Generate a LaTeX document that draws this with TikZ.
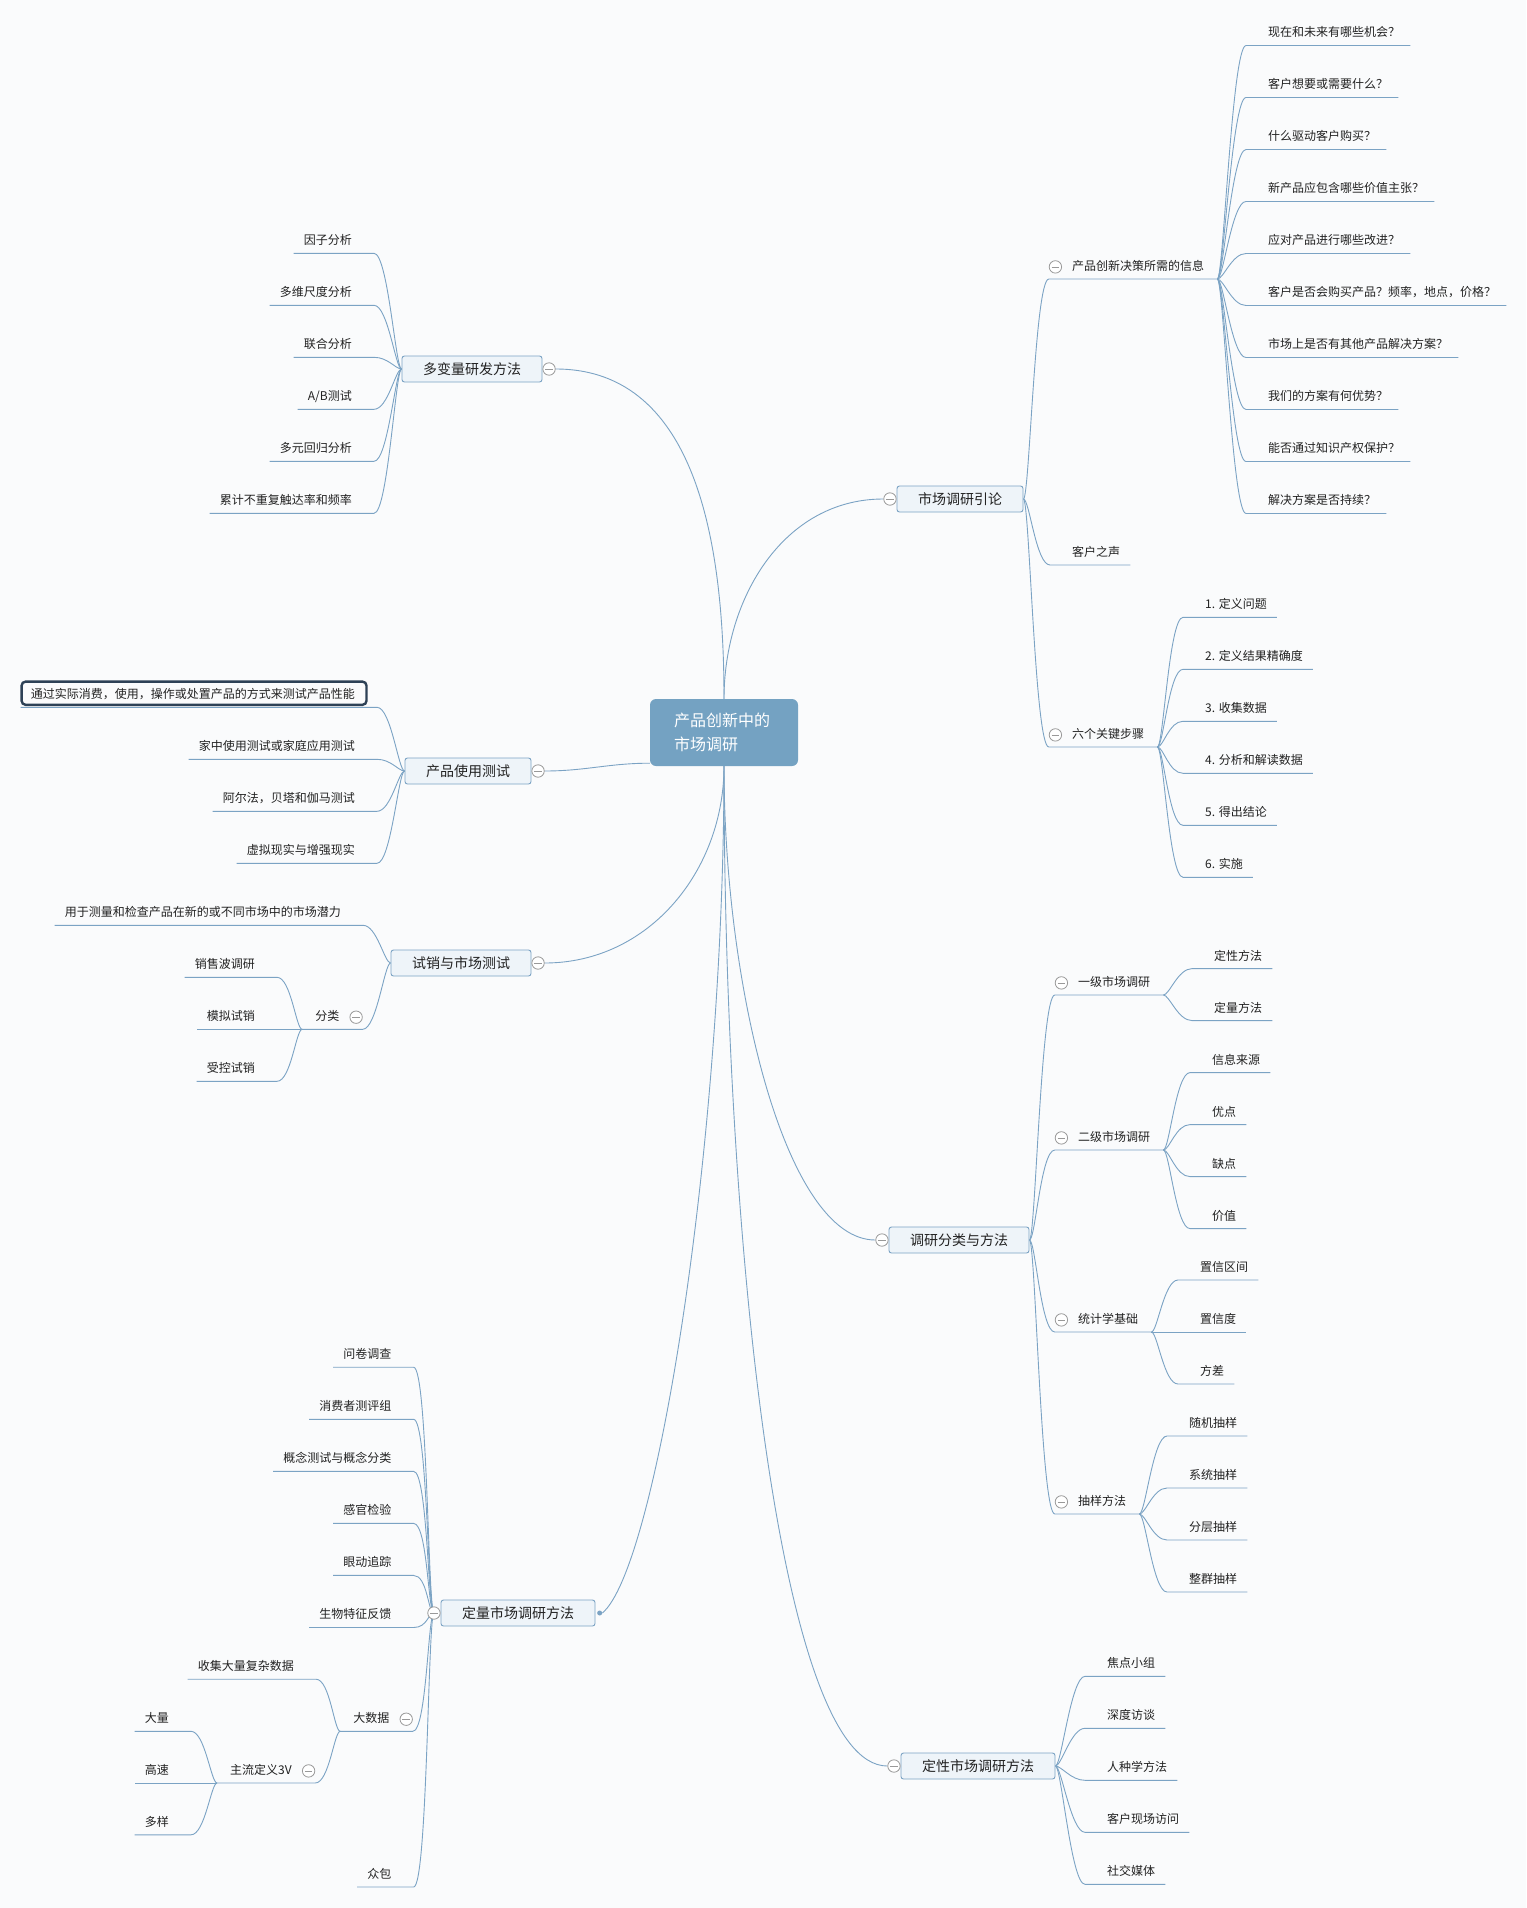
\documentclass[tikz,border=0pt]{standalone}
\usepackage{fontspec}
\usepackage{xcolor}
\usetikzlibrary{positioning,backgrounds}
\newfontfamily\cjk{Noto Sans CJK SC}
\definecolor{paper}{HTML}{FAFBFC}
\definecolor{ink}{HTML}{222222}
\definecolor{linkblue}{HTML}{7BA3C4}
\definecolor{rootblue}{HTML}{74A2C2}
\definecolor{topicfill}{HTML}{EEF4F9}
\definecolor{foldgray}{HTML}{999999}
\definecolor{navy}{HTML}{2D4156}
\tikzset{
  every node/.style={font=\cjk, text=ink},
  root/.style={fill=rootblue, rounded corners=6pt, text=white, font=\cjk\fontsize{16}{24}\selectfont, align=left, text width=100pt, minimum width=148pt, minimum height=67pt, inner xsep=24pt},
  topic/.style={draw=linkblue, fill=topicfill, rounded corners=2.5pt, line width=0.9pt, font=\cjk\fontsize{14}{16}\selectfont, inner xsep=21pt, inner ysep=0pt, minimum height=26pt},
  leaf/.style={font=\cjk\fontsize{12}{14}\selectfont, inner xsep=10pt, inner ysep=5.4pt, text height=10pt, text depth=3pt},
  subtopic/.style={leaf, inner xsep=13pt},
  fold/.style={circle, draw=foldgray, fill=white, line width=0.8pt, minimum size=12.4pt, inner sep=0pt, path picture={\draw[foldgray, line width=0.8pt] ([xshift=-3.8pt]path picture bounding box.center) -- ([xshift=3.8pt]path picture bounding box.center);}},
  pindot/.style={circle, fill=linkblue, minimum size=5pt, inner sep=0pt},
  link/.style={draw=linkblue, line width=0.9pt},
  goright/.style={out=0, in=180, out distance=6pt, in distance=14pt},
  goleft/.style={out=180, in=0, out distance=6pt, in distance=14pt},
  picked/.style={draw=navy, line width=2.4pt, rounded corners=4pt},
}
\begin{document}
\begin{tikzpicture}[x=1pt, y=-1pt]
\begin{scope}[on background layer]
\fill[paper] (0,0) rectangle (1526,1908);
\end{scope}
\useasboundingbox (0,0) rectangle (1526,1908);

\node[root] (root) at (724,732.5) {产品创新中的\\市场调研};

\node[topic] (intro) at (960,499) {市场调研引论};
\node[fold, left=0pt of intro] (introfold) {};
\node[topic] (multi) at (472,369) {多变量研发方法};
\node[fold, right=0pt of multi] (multifold) {};
\node[topic] (usage) at (468,771) {产品使用测试};
\node[fold, right=0pt of usage] (usagefold) {};
\node[topic] (trial) at (461,963) {试销与市场测试};
\node[fold, right=0pt of trial] (trialfold) {};
\node[topic] (classes) at (959,1240) {调研分类与方法};
\node[fold, left=0pt of classes] (classesfold) {};
\node[topic] (quant) at (518,1613) {定量市场调研方法};
\node[fold, left=0pt of quant] (quantfold) {};
\node[pindot, right=1.5pt of quant] (quantdot) {};
\node[topic] (qual) at (978,1766) {定性市场调研方法};
\node[fold, left=0pt of qual] (qualfold) {};

\node[subtopic, anchor=south west] (need) at (1059,279) {产品创新决策所需的信息};
\node[fold, left=-3pt of need] (needfold) {};
\node[leaf, anchor=south west] (voice) at (1062,565) {客户之声};
\node[subtopic, anchor=south west] (steps) at (1059,747) {六个关键步骤};
\node[fold, left=-3pt of steps] (stepsfold) {};

\node[leaf, anchor=south west] (need1) at (1258,45.5) {现在和未来有哪些机会？};
\node[leaf, anchor=south west] (need2) at (1258,97.5) {客户想要或需要什么？};
\node[leaf, anchor=south west] (need3) at (1258,149.5) {什么驱动客户购买？};
\node[leaf, anchor=south west] (need4) at (1258,201.5) {新产品应包含哪些价值主张？};
\node[leaf, anchor=south west] (need5) at (1258,253.5) {应对产品进行哪些改进？};
\node[leaf, anchor=south west] (need6) at (1258,305.5) {客户是否会购买产品？频率，地点，价格？};
\node[leaf, anchor=south west] (need7) at (1258,357.5) {市场上是否有其他产品解决方案？};
\node[leaf, anchor=south west] (need8) at (1258,409.5) {我们的方案有何优势？};
\node[leaf, anchor=south west] (need9) at (1258,461.5) {能否通过知识产权保护？};
\node[leaf, anchor=south west] (need10) at (1258,513.5) {解决方案是否持续？};

\node[leaf, anchor=south west] (step1) at (1195,617.3) {1. 定义问题};
\node[leaf, anchor=south west] (step2) at (1195,669.3) {2. 定义结果精确度};
\node[leaf, anchor=south west] (step3) at (1195,721.3) {3. 收集数据};
\node[leaf, anchor=south west] (step4) at (1195,773.3) {4. 分析和解读数据};
\node[leaf, anchor=south west] (step5) at (1195,825.3) {5. 得出结论};
\node[leaf, anchor=south west] (step6) at (1195,877.3) {6. 实施};

\node[subtopic, anchor=south west] (primary) at (1065,995) {一级市场调研};
\node[fold, left=-3pt of primary] (primaryfold) {};
\node[subtopic, anchor=south west] (secondary) at (1065,1150) {二级市场调研};
\node[fold, left=-3pt of secondary] (secondaryfold) {};
\node[subtopic, anchor=south west] (stats) at (1065,1332) {统计学基础};
\node[fold, left=-3pt of stats] (statsfold) {};
\node[subtopic, anchor=south west] (sampling) at (1065,1514) {抽样方法};
\node[fold, left=-3pt of sampling] (samplingfold) {};

\node[leaf, anchor=south west] (prim1) at (1204,968.6) {定性方法};
\node[leaf, anchor=south west] (prim2) at (1204,1020.6) {定量方法};
\node[leaf, anchor=south west] (sec1) at (1202,1072.6) {信息来源};
\node[leaf, anchor=south west] (sec2) at (1202,1124.6) {优点};
\node[leaf, anchor=south west] (sec3) at (1202,1176.6) {缺点};
\node[leaf, anchor=south west] (sec4) at (1202,1228.6) {价值};
\node[leaf, anchor=south west] (stat1) at (1190,1280) {置信区间};
\node[leaf, anchor=south west] (stat2) at (1190,1332) {置信度};
\node[leaf, anchor=south west] (stat3) at (1190,1384) {方差};
\node[leaf, anchor=south west] (samp1) at (1179,1436) {随机抽样};
\node[leaf, anchor=south west] (samp2) at (1179,1488) {系统抽样};
\node[leaf, anchor=south west] (samp3) at (1179,1540) {分层抽样};
\node[leaf, anchor=south west] (samp4) at (1179,1592) {整群抽样};

\node[leaf, anchor=south west] (qual1) at (1097,1676.3) {焦点小组};
\node[leaf, anchor=south west] (qual2) at (1097,1728.3) {深度访谈};
\node[leaf, anchor=south west] (qual3) at (1097,1780.3) {人种学方法};
\node[leaf, anchor=south west] (qual4) at (1097,1832.3) {客户现场访问};
\node[leaf, anchor=south west] (qual5) at (1097,1884.3) {社交媒体};

\node[leaf, anchor=south east] (multi1) at (362,253.3) {因子分析};
\node[leaf, anchor=south east] (multi2) at (362,305.3) {多维尺度分析};
\node[leaf, anchor=south east] (multi3) at (362,357.3) {联合分析};
\node[leaf, anchor=south east] (multi4) at (362,409.3) {A/B测试};
\node[leaf, anchor=south east] (multi5) at (362,461.3) {多元回归分析};
\node[leaf, anchor=south east] (multi6) at (362,513.3) {累计不重复触达率和频率};

\node[leaf, anchor=south east] (use1) at (365,707.3) {通过实际消费，使用，操作或处置产品的方式来测试产品性能};
\draw[picked] ([shift={(1pt,2.5pt)}]use1.south west) rectangle ([shift={(1.5pt,1.5pt)}]use1.north east);
\node[leaf, anchor=south east] (use2) at (365,759.3) {家中使用测试或家庭应用测试};
\node[leaf, anchor=south east] (use3) at (365,811.3) {阿尔法，贝塔和伽马测试};
\node[leaf, anchor=south east] (use4) at (365,863.3) {虚拟现实与增强现实};

\node[leaf, anchor=south east] (potential) at (351,925.3) {用于测量和检查产品在新的或不同市场中的市场潜力};
\node[subtopic, anchor=south east] (sort) at (352.5,1029.3) {分类};
\node[fold, right=-3pt of sort] (sortfold) {};
\node[leaf, anchor=south east] (sort1) at (265,977.3) {销售波调研};
\node[leaf, anchor=south east] (sort2) at (265,1029.3) {模拟试销};
\node[leaf, anchor=south east] (sort3) at (265,1081.3) {受控试销};

\node[leaf, anchor=south east] (quant1) at (401.6,1367.2) {问卷调查};
\node[leaf, anchor=south east] (quant2) at (401.6,1419.3) {消费者测评组};
\node[leaf, anchor=south east] (quant3) at (401.6,1471.3) {概念测试与概念分类};
\node[leaf, anchor=south east] (quant4) at (401.6,1523.4) {感官检验};
\node[leaf, anchor=south east] (quant5) at (401.6,1575.4) {眼动追踪};
\node[leaf, anchor=south east] (quant6) at (401.6,1627.5) {生物特征反馈};
\node[subtopic, anchor=south east] (bigdata) at (402.6,1731.3) {大数据};
\node[fold, right=-3pt of bigdata] (bigdatafold) {};
\node[leaf, anchor=south east] (crowd) at (401.6,1887) {众包};
\node[leaf, anchor=south east] (collect) at (304,1679.2) {收集大量复杂数据};
\node[subtopic, anchor=south east] (threev) at (305,1783) {主流定义3V};
\node[fold, right=-3pt of threev] (threevfold) {};
\node[leaf, anchor=south east] (v1) at (179,1731.3) {大量};
\node[leaf, anchor=south east] (v2) at (179,1783) {高速};
\node[leaf, anchor=south east] (v3) at (179,1834.8) {多样};

\begin{scope}[on background layer]
\draw[link] (root.north) to[out=90,in=180] (introfold.west);
\draw[link] (root.north) to[out=90,in=0] (multifold.east);
\draw[link] ([yshift=3pt]root.south west) to[out=180,in=0] (usagefold.east);
\draw[link] (root.south) to[out=-90,in=0] (trialfold.east);
\draw[link] (root.south) to[out=-90,in=180,out distance=220pt,in distance=90pt] (classesfold.west);
\draw[link] (root.south) to[out=-90,in=40,out distance=380pt,in distance=70pt] (quantdot.east);
\draw[link] (root.south) to[out=-90,in=180,out distance=460pt,in distance=110pt] (qualfold.west);

\draw[link] (intro.east) to[goright] (needfold.west |- need.south) -- (need.south east);
\draw[link] (intro.east) to[goright] ([xshift=-12pt]voice.south west) -- (voice.south east);
\draw[link] (intro.east) to[goright] (stepsfold.west |- steps.south) -- (steps.south east);
\draw[link] (need.south east) to[goright] ([xshift=-12pt]need1.south west) -- (need1.south east);
\draw[link] (need.south east) to[goright] ([xshift=-12pt]need2.south west) -- (need2.south east);
\draw[link] (need.south east) to[goright] ([xshift=-12pt]need3.south west) -- (need3.south east);
\draw[link] (need.south east) to[goright] ([xshift=-12pt]need4.south west) -- (need4.south east);
\draw[link] (need.south east) to[goright] ([xshift=-12pt]need5.south west) -- (need5.south east);
\draw[link] (need.south east) to[goright] ([xshift=-12pt]need6.south west) -- (need6.south east);
\draw[link] (need.south east) to[goright] ([xshift=-12pt]need7.south west) -- (need7.south east);
\draw[link] (need.south east) to[goright] ([xshift=-12pt]need8.south west) -- (need8.south east);
\draw[link] (need.south east) to[goright] ([xshift=-12pt]need9.south west) -- (need9.south east);
\draw[link] (need.south east) to[goright] ([xshift=-12pt]need10.south west) -- (need10.south east);
\draw[link] (steps.south east) to[goright] ([xshift=-12pt]step1.south west) -- (step1.south east);
\draw[link] (steps.south east) to[goright] ([xshift=-12pt]step2.south west) -- (step2.south east);
\draw[link] (steps.south east) to[goright] ([xshift=-12pt]step3.south west) -- (step3.south east);
\draw[link] (steps.south east) to[goright] ([xshift=-12pt]step4.south west) -- (step4.south east);
\draw[link] (steps.south east) to[goright] ([xshift=-12pt]step5.south west) -- (step5.south east);
\draw[link] (steps.south east) to[goright] ([xshift=-12pt]step6.south west) -- (step6.south east);

\draw[link] (classes.east) to[goright] (primaryfold.west |- primary.south) -- (primary.south east);
\draw[link] (classes.east) to[goright] (secondaryfold.west |- secondary.south) -- (secondary.south east);
\draw[link] (classes.east) to[goright] (statsfold.west |- stats.south) -- (stats.south east);
\draw[link] (classes.east) to[goright] (samplingfold.west |- sampling.south) -- (sampling.south east);
\draw[link] (primary.south east) to[goright] ([xshift=-12pt]prim1.south west) -- (prim1.south east);
\draw[link] (primary.south east) to[goright] ([xshift=-12pt]prim2.south west) -- (prim2.south east);
\draw[link] (secondary.south east) to[goright] ([xshift=-12pt]sec1.south west) -- (sec1.south east);
\draw[link] (secondary.south east) to[goright] ([xshift=-12pt]sec2.south west) -- (sec2.south east);
\draw[link] (secondary.south east) to[goright] ([xshift=-12pt]sec3.south west) -- (sec3.south east);
\draw[link] (secondary.south east) to[goright] ([xshift=-12pt]sec4.south west) -- (sec4.south east);
\draw[link] (stats.south east) to[goright] ([xshift=-12pt]stat1.south west) -- (stat1.south east);
\draw[link] (stats.south east) to[goright] ([xshift=-12pt]stat2.south west) -- (stat2.south east);
\draw[link] (stats.south east) to[goright] ([xshift=-12pt]stat3.south west) -- (stat3.south east);
\draw[link] (sampling.south east) to[goright] ([xshift=-12pt]samp1.south west) -- (samp1.south east);
\draw[link] (sampling.south east) to[goright] ([xshift=-12pt]samp2.south west) -- (samp2.south east);
\draw[link] (sampling.south east) to[goright] ([xshift=-12pt]samp3.south west) -- (samp3.south east);
\draw[link] (sampling.south east) to[goright] ([xshift=-12pt]samp4.south west) -- (samp4.south east);

\draw[link] (qual.east) to[goright] ([xshift=-12pt]qual1.south west) -- (qual1.south east);
\draw[link] (qual.east) to[goright] ([xshift=-12pt]qual2.south west) -- (qual2.south east);
\draw[link] (qual.east) to[goright] ([xshift=-12pt]qual3.south west) -- (qual3.south east);
\draw[link] (qual.east) to[goright] ([xshift=-12pt]qual4.south west) -- (qual4.south east);
\draw[link] (qual.east) to[goright] ([xshift=-12pt]qual5.south west) -- (qual5.south east);

\draw[link] (multi.west) to[goleft] ([xshift=12pt]multi1.south east) -- (multi1.south west);
\draw[link] (multi.west) to[goleft] ([xshift=12pt]multi2.south east) -- (multi2.south west);
\draw[link] (multi.west) to[goleft] ([xshift=12pt]multi3.south east) -- (multi3.south west);
\draw[link] (multi.west) to[goleft] ([xshift=12pt]multi4.south east) -- (multi4.south west);
\draw[link] (multi.west) to[goleft] ([xshift=12pt]multi5.south east) -- (multi5.south west);
\draw[link] (multi.west) to[goleft] ([xshift=12pt]multi6.south east) -- (multi6.south west);

\draw[link] (usage.west) to[goleft] ([xshift=12pt]use1.south east) -- (use1.south west);
\draw[link] (usage.west) to[goleft] ([xshift=12pt]use2.south east) -- (use2.south west);
\draw[link] (usage.west) to[goleft] ([xshift=12pt]use3.south east) -- (use3.south west);
\draw[link] (usage.west) to[goleft] ([xshift=12pt]use4.south east) -- (use4.south west);

\draw[link] (trial.west) to[goleft] ([xshift=12pt]potential.south east) -- (potential.south west);
\draw[link] (trial.west) to[goleft] (sortfold.east |- sort.south) -- (sort.south west);
\draw[link] (sort.south west) to[goleft] ([xshift=12pt]sort1.south east) -- (sort1.south west);
\draw[link] (sort.south west) to[goleft] ([xshift=12pt]sort2.south east) -- (sort2.south west);
\draw[link] (sort.south west) to[goleft] ([xshift=12pt]sort3.south east) -- (sort3.south west);

\draw[link] (quantfold.center) to[goleft] ([xshift=12pt]quant1.south east) -- (quant1.south west);
\draw[link] (quantfold.center) to[goleft] ([xshift=12pt]quant2.south east) -- (quant2.south west);
\draw[link] (quantfold.center) to[goleft] ([xshift=12pt]quant3.south east) -- (quant3.south west);
\draw[link] (quantfold.center) to[goleft] ([xshift=12pt]quant4.south east) -- (quant4.south west);
\draw[link] (quantfold.center) to[goleft] ([xshift=12pt]quant5.south east) -- (quant5.south west);
\draw[link] (quantfold.center) to[goleft] ([xshift=12pt]quant6.south east) -- (quant6.south west);
\draw[link] (quantfold.center) to[goleft] (bigdatafold.east |- bigdata.south) -- (bigdata.south west);
\draw[link] (quantfold.center) to[goleft] ([xshift=12pt]crowd.south east) -- (crowd.south west);
\draw[link] (bigdata.south west) to[goleft] ([xshift=12pt]collect.south east) -- (collect.south west);
\draw[link] (bigdata.south west) to[goleft] (threevfold.east |- threev.south) -- (threev.south west);
\draw[link] (threev.south west) to[goleft] ([xshift=12pt]v1.south east) -- (v1.south west);
\draw[link] (threev.south west) to[goleft] ([xshift=12pt]v2.south east) -- (v2.south west);
\draw[link] (threev.south west) to[goleft] ([xshift=12pt]v3.south east) -- (v3.south west);
\end{scope}
\end{tikzpicture}
\end{document}
